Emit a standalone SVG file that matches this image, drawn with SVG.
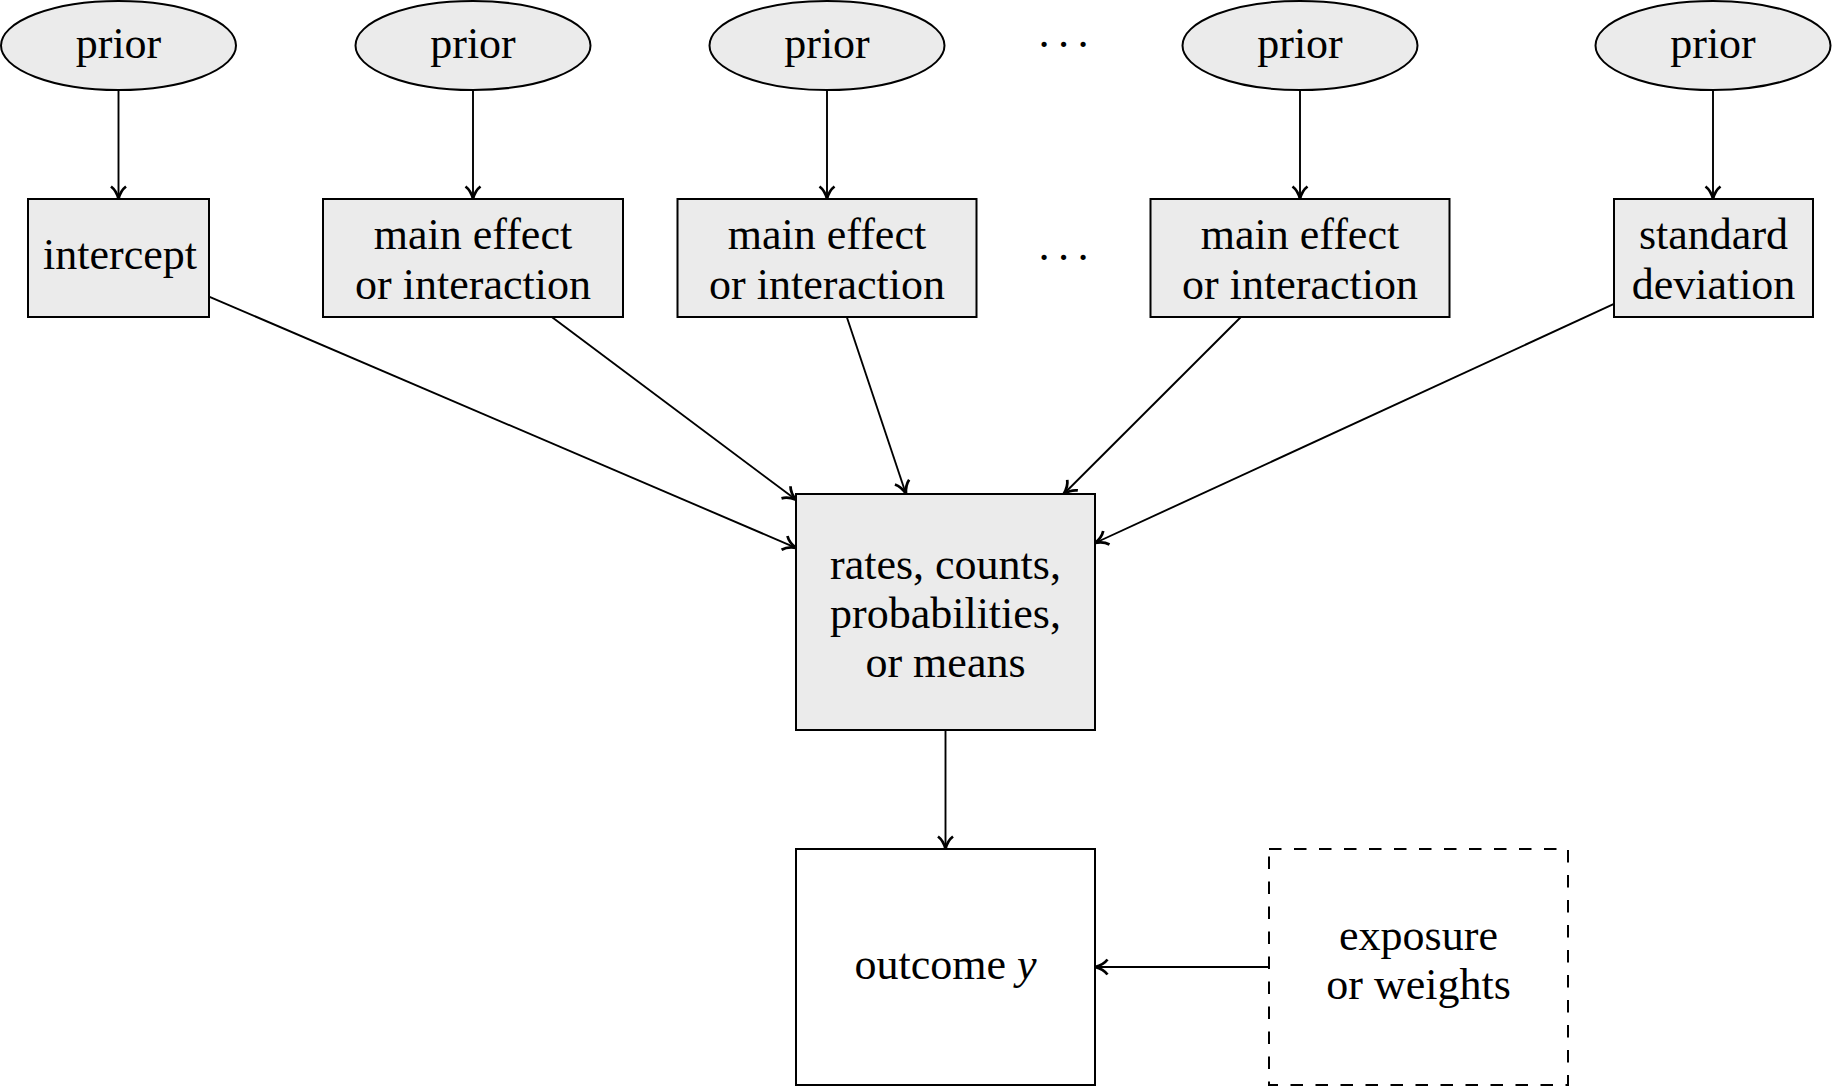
<svg xmlns="http://www.w3.org/2000/svg" width="1832" height="1086" viewBox="0 0 1832 1086">
<defs>
<style>
.node{fill:#ebebeb;stroke:#000;stroke-width:2}
.plain{fill:#fff;stroke:#000;stroke-width:2}
.dash{fill:#fff;stroke:#000;stroke-width:2;stroke-dasharray:12.5 12.5}
text{font-family:"Liberation Serif","Times New Roman",serif;font-size:44px;fill:#000;text-anchor:middle}
.edge{stroke:#000;stroke-width:1.9;fill:none;marker-end:url(#arr)}
</style>
<marker id="arr" markerUnits="userSpaceOnUse" markerWidth="20" markerHeight="20" viewBox="-12 -8 14 16" refX="0" refY="0" orient="auto">
<path d="M-10,-6 C-7,-2 -2,-0.5 0,0 C-2,0.5 -7,2 -10,6" fill="none" stroke="#000" stroke-width="2.2"/>
</marker>
</defs>
<rect width="1832" height="1086" fill="#fff"/>

<g id="connectors">
<line class="edge" x1="118.5" y1="90.5" x2="118.5" y2="199"/>
<line class="edge" x1="473" y1="90.5" x2="473" y2="199"/>
<line class="edge" x1="827" y1="90.5" x2="827" y2="199"/>
<line class="edge" x1="1300" y1="90.5" x2="1300" y2="199"/>
<line class="edge" x1="1713" y1="90.5" x2="1713" y2="199"/>
<line class="edge" x1="209" y1="296.6" x2="796" y2="547.8"/>
<line class="edge" x1="551.8" y1="317" x2="796" y2="499.8"/>
<line class="edge" x1="846.8" y1="317" x2="906" y2="494"/>
<line class="edge" x1="1240.9" y1="317" x2="1063.7" y2="494"/>
<line class="edge" x1="1614" y1="303.9" x2="1095" y2="543"/>
<line class="edge" x1="945.5" y1="730" x2="945.5" y2="849"/>
<line class="edge" x1="1269" y1="967" x2="1095" y2="967"/>
</g>

<g id="prior1"><ellipse class="node" cx="118.5" cy="45.5" rx="117.5" ry="44.5"/><text x="118.5" y="58">prior</text></g>
<g id="prior2"><ellipse class="node" cx="473" cy="45.5" rx="117.5" ry="44.5"/><text x="473" y="58">prior</text></g>
<g id="prior3"><ellipse class="node" cx="827" cy="45.5" rx="117.5" ry="44.5"/><text x="827" y="58">prior</text></g>
<g id="dots1"><text x="1044 1063.5 1083" y="59">···</text></g>
<g id="prior4"><ellipse class="node" cx="1300" cy="45.5" rx="117.5" ry="44.5"/><text x="1300" y="58">prior</text></g>
<g id="prior5"><ellipse class="node" cx="1713" cy="45.5" rx="117.5" ry="44.5"/><text x="1713" y="58">prior</text></g>

<g id="intercept"><rect class="node" x="28" y="199" width="181" height="118"/><text x="120" y="269">intercept</text></g>
<g id="effect1"><rect class="node" x="323" y="199" width="300" height="118"/><text x="473" y="249">main effect</text><text x="473" y="299">or interaction</text></g>
<g id="effect2"><rect class="node" x="677.5" y="199" width="299" height="118"/><text x="827" y="249">main effect</text><text x="827" y="299">or interaction</text></g>
<g id="dots2"><text x="1044 1063.5 1083" y="272">···</text></g>
<g id="effect3"><rect class="node" x="1150.5" y="199" width="299" height="118"/><text x="1300" y="249">main effect</text><text x="1300" y="299">or interaction</text></g>
<g id="sd"><rect class="node" x="1614" y="199" width="199" height="118"/><text x="1713.5" y="249">standard</text><text x="1713.5" y="299">deviation</text></g>

<g id="rates"><rect class="node" x="796" y="494" width="299" height="236"/><text x="945.5" y="579">rates, counts,</text><text x="945.5" y="628">probabilities,</text><text x="945.5" y="677">or means</text></g>
<g id="outcome"><rect class="plain" x="796" y="849" width="299" height="236"/><text x="945.5" y="979">outcome <tspan font-style="italic">y</tspan></text></g>
<g id="exposure"><rect class="dash" x="1269" y="849" width="299" height="236"/><text x="1418.5" y="950">exposure</text><text x="1418.5" y="999">or weights</text></g>
</svg>
